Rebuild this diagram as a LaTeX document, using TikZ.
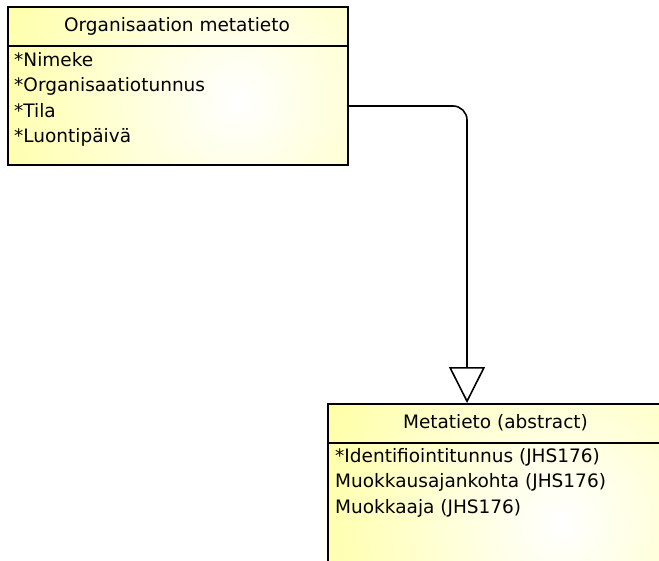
\documentclass[tikz,border=0pt]{standalone}
\usepackage{fontspec}
\setmainfont{DejaVu Sans}
\usetikzlibrary{arrows.meta,calc}
\definecolor{umlyellow}{RGB}{255,255,153}
\tikzset{
  classbox/.style={draw=black, line width=2pt, inner sep=0pt, anchor=north west,
    path picture={
      \fill[umlyellow] (path picture bounding box.south west) rectangle (path picture bounding box.north east);
      \shade[inner color=white, outer color=umlyellow]
        ($(path picture bounding box.center)+(#1)$) circle (300pt);
    }},
  classtitle/.style={inner sep=0pt, anchor=base, font=\fontsize{18.5}{22}\selectfont},
  attr/.style={inner sep=0pt, anchor=base west, font=\fontsize{18.5}{22}\selectfont},
  divider/.style={line width=2pt},
  generalization/.style={line width=1.6pt, rounded corners=14pt,
    -{Triangle[open, fill=white, length=36pt, width=36pt]}},
}
\begin{document}
\begin{tikzpicture}[x=1pt, y=-1pt]
  \useasboundingbox (0,0) rectangle (659,560);
  \begin{scope}
    \clip (0,0) rectangle (659,560);

    % Organisaation metatieto
    \node[classbox={60pt,-15pt}, minimum width=340pt, minimum height=158pt] (org) at (7,6) {};
    \node[classtitle] (orgtitle) at (177,31) {Organisaation metatieto};
    \draw[divider] (org.west |- 0,46) coordinate (orgdivl) -- (org.east |- 0,46) coordinate (orgdivr);
    \node[attr] (a1) at (14,66) {*Nimeke};
    \node[attr] (a2) at (14,91.6) {*Organisaatiotunnus};
    \node[attr] (a3) at (14,117.2) {*Tila};
    \node[attr] (a4) at (14,142.8) {*Luontipäivä};

    % Metatieto (abstract)
    \node[classbox={65pt,-20pt}, minimum width=336pt, minimum height=200pt] (meta) at (327,403) {};
    \node[classtitle] (metatitle) at (495.5,428) {Metatieto (abstract)};
    \draw[divider] (meta.west |- 0,443) coordinate (metadivl) -- (meta.east |- 0,443) coordinate (metadivr);
    \node[attr] (b1) at (335,462) {*Identifiointitunnus (JHS176)};
    \node[attr] (b2) at (335,487.6) {Muokkausajankohta (JHS176)};
    \node[attr] (b3) at (335,513.2) {Muokkaaja (JHS176)};

    % generalization
    \draw[generalization] ([yshift=-20pt]org.east) -| ([xshift=-29pt]meta.north);
  \end{scope}
\end{tikzpicture}
\end{document}
